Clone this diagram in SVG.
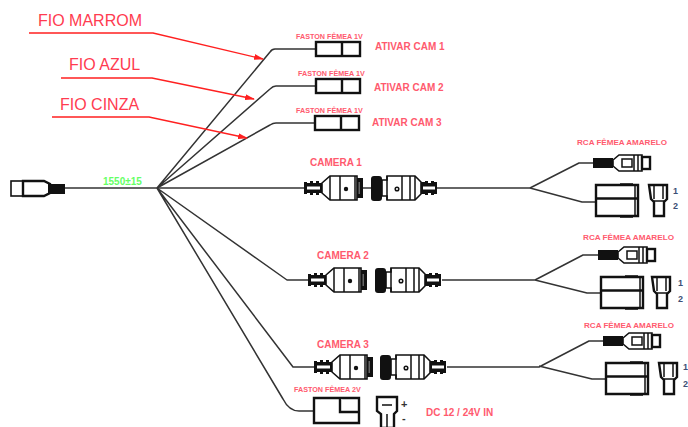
<svg xmlns="http://www.w3.org/2000/svg" width="688" height="427" viewBox="0 0 688 427">
<style>
text{font-family:"Liberation Sans",Arial,sans-serif;fill:#ff5a6e}
.big{font-size:16px;fill:#ff3b50}
.mid{font-size:10px;font-weight:bold}
.sm{font-size:7.200px;font-weight:bold}
.rc{font-size:7.200px;font-weight:bold}
.n{font-size:9px;font-weight:bold;fill:#3d4f75}
.w{fill:none;stroke:#333;stroke-width:1.500;stroke-linejoin:round}
.r{fill:none;stroke:#ff2020;stroke-width:1.400}
.k{fill:#fff;stroke:#111;stroke-width:1.600}
.h{fill:#fff;stroke:#111;stroke-width:2.400}
.t{fill:none;stroke:#111;stroke-width:1.500}
.b{fill:#111;stroke:none}
</style>
<defs>
<marker id="ah" markerWidth="10" markerHeight="6" refX="9" refY="3" orient="auto" markerUnits="userSpaceOnUse"><path d="M0 0L10 3L0 6Z" fill="#ff2020"/></marker>
<g id="fast"><rect class="h" x="0" y="-7" width="44" height="14"/><path class="h" d="M26-7V7"/></g>
<g id="camL">
<path class="b" d="M0-6h3v1h3v-2h3v2h3v-2h3v2h3V5h-3v2h-3V5H9v2H6V5H3v1H0z"/>
<path d="M3-1.500h13v3H3z" fill="#fff"/>
<path class="k" d="M18-5L26-12H53V12H26L18 5Z"/>
<path class="t" d="M26-12V12M36-12V12M51-12V12"/>
<circle class="b" cx="42" cy="1" r="2.200"/>
<rect class="b" x="53" y="-10" width="6" height="20"/><path d="M54.500-6h1.500V6h-1.500z" fill="#666"/>
</g>
<g id="camR">
<rect class="b" x="0" y="-12" width="11" height="25" rx="3"/>
<path class="k" d="M11-8H16V-12H44L50-6V6L44 12H16V8H11Z"/>
<path class="t" d="M16-12V12M31-12V12M39-12V12M44-12V12"/><circle class="t" cx="26" cy="1" r="1.800"/>
<path class="b" d="M50-6h4v-1h3v2h3v-2h3v1h3V6h-3v1h-3V5h-3v2h-3V6h-4z"/>
<path d="M52-1.500h12v3H52z" fill="#fff"/>
</g>
<g id="rca">
<rect class="b" x="0" y="-5" width="20" height="10"/>
<path class="k" d="M20-3L26-8H49V8H26L20 3Z"/>
<rect class="t" x="29" y="-4" width="10" height="8"/><path class="t" d="M41-8V8M45-8V8"/>
<rect class="h" x="49" y="-6" width="8" height="12"/>
</g>
<g id="blk">
<path class="h" d="M0 0H42V31H0Z"/><path class="h" d="M0 13.500H42"/><path class="t" d="M39 0V31M24-1H37M24 32H37"/>
</g>
<g id="pin">
<path class="h" d="M0 0H18V14L15 17V31H5V17L2 14Z"/><path class="t" d="M5 0V14M14 0V14M5 16H15"/>
</g>
</defs>

<g id="connectors">
<path class="w" d="M63 188H530"/>
<path class="w" d="M157 188L270 52Q272 49 275 49H316M157 188L270 89Q273 86 276 86H316M157 188L270 125Q273 123 276 123H315"/>
<path class="w" d="M157 188L287 280H308M157 188L293 367H314M157 188L283 399Q289 411 299 411H314"/>
<path class="w" d="M530 188L579 163H593M530 188L582 202H596"/>
<path class="w" d="M442 280H535L583 255H598M535 280L587 293H601"/>
<path class="w" d="M447 367H539L589 341H603M539 366L592 379H606"/>
</g>
<g id="labels">
<path class="r" d="M29 33H153L263 59" marker-end="url(#ah)"/>
<path class="r" d="M61 78H152L254 99" marker-end="url(#ah)"/>
<path class="r" d="M52 117H149L247 138" marker-end="url(#ah)"/>
<text class="big" x="38" y="26">FIO MARROM</text>
<text class="big" x="69" y="70">FIO AZUL</text>
<text class="big" x="60" y="110">FIO CINZA</text>
<text x="103" y="185" style="font-size:10px;font-weight:bold;fill:#66ff66">1550±15</text>
</g>
<g id="cable-plug"><rect class="k" x="11" y="181" width="12" height="15"/><path class="h" d="M23 181H44L50 184V193L44 196H23Z"/><rect class="b" x="48" y="184" width="17" height="10"/></g>

<g id="fast1"><text class="sm" x="296" y="39">FASTON FÊMEA 1V</text><use href="#fast" x="316" y="49"/><text class="mid" x="375" y="50">ATIVAR CAM 1</text></g>
<g id="fast2"><text class="sm" x="298" y="76">FASTON FÊMEA 1V</text><use href="#fast" x="316" y="86"/><text class="mid" x="374" y="91">ATIVAR CAM 2</text></g>
<g id="fast3"><text class="sm" x="296" y="113">FASTON FÊMEA 1V</text><use href="#fast" x="315" y="123"/><text class="mid" x="372" y="126">ATIVAR CAM 3</text></g>

<g id="cam1"><text class="mid" x="310" y="166">CAMERA 1</text><use href="#camL" x="304" y="188"/><use href="#camR" x="371" y="188"/></g>
<g id="cam2"><text class="mid" x="317" y="259">CAMERA 2</text><use href="#camL" x="308" y="280"/><use href="#camR" x="375" y="280"/></g>
<g id="cam3"><text class="mid" x="317" y="348">CAMERA 3</text><use href="#camL" x="314" y="367"/><use href="#camR" x="380" y="367"/></g>

<g id="rca1"><text class="rc" x="577" y="145" textLength="90" lengthAdjust="spacingAndGlyphs">RCA FÊMEA AMARELO</text><use href="#rca" x="593" y="163"/><use href="#blk" x="596" y="185"/><use href="#pin" x="649" y="185"/><text class="n" x="673" y="194">1</text><text class="n" x="673" y="209">2</text></g>
<g id="rca2"><text class="rc" x="583" y="240" textLength="91" lengthAdjust="spacingAndGlyphs">RCA FÊMEA AMARELO</text><use href="#rca" x="598" y="255"/><use href="#blk" x="601" y="277"/><use href="#pin" x="652" y="277"/><text class="n" x="678" y="286">1</text><text class="n" x="678" y="302">2</text></g>
<g id="rca3"><text class="rc" x="584" y="328" textLength="90" lengthAdjust="spacingAndGlyphs">RCA FÊMEA AMARELO</text><use href="#rca" x="603" y="341"/><use href="#blk" x="606" y="363"/><use href="#pin" x="659" y="363"/><text class="n" x="683" y="370">1</text><text class="n" x="683" y="387">2</text></g>

<g id="dc">
<text class="sm" x="294" y="392">FASTON FÊMEA 2V</text>
<path class="h" d="M314 398H359V423H314Z"/><path class="h" d="M340 398V412H359"/>
<path class="h" d="M377 397H397V411L394 414V428H381V414L377 411Z"/><path class="t" d="M382 405H392M387 414V428"/>
<text x="401" y="408" style="font-size:11px;font-weight:bold;fill:#333">+</text><text x="402" y="422" style="font-size:11px;font-weight:bold;fill:#333">-</text>
<text class="mid" x="426" y="416">DC 12 / 24V IN</text>
</g>
</svg>
